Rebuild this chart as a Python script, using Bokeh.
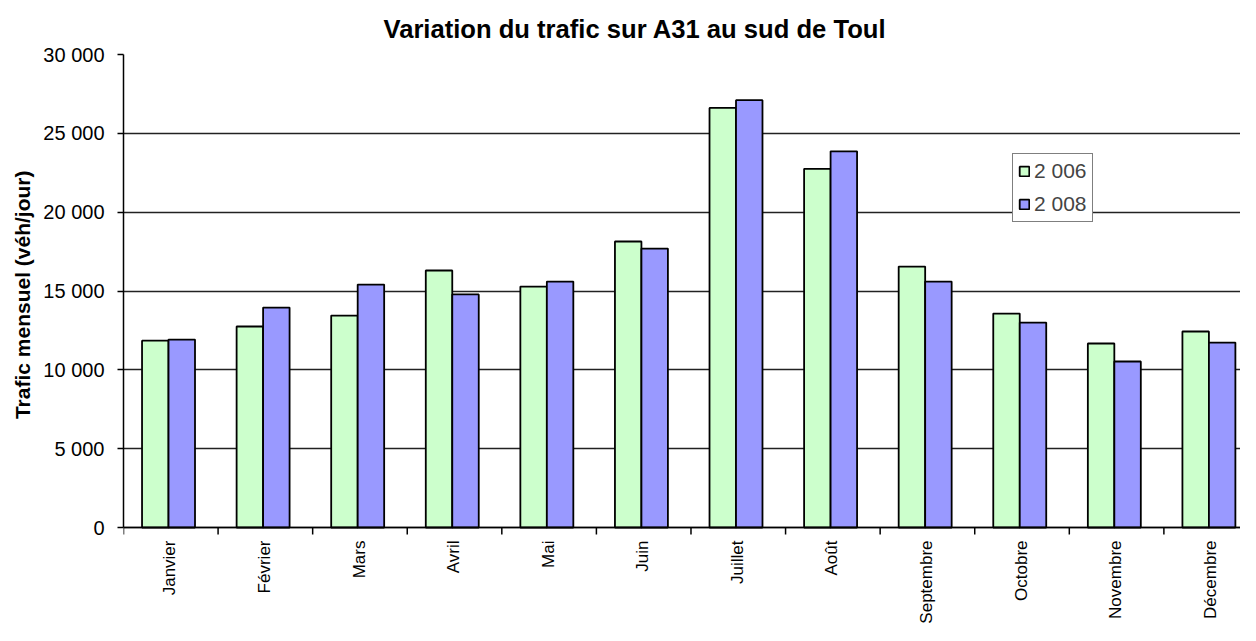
from bokeh.plotting import figure
from bokeh.models import FixedTicker, Legend, LegendItem, Title, ColumnDataSource, LabelSet, Span
from bokeh.core.properties import value
from bokeh.transform import dodge
from bokeh.embed import file_html
from bokeh.resources import INLINE
import math

months = ["Janvier", "Février", "Mars", "Avril", "Mai", "Juin", "Juillet",
          "Août", "Septembre", "Octobre", "Novembre", "Décembre"]
trafic_2006 = [11850, 12750, 13440, 16300, 15280, 18140, 26610, 22750, 16550, 13570, 11670, 12430]
trafic_2008 = [11920, 13950, 15410, 14780, 15600, 17690, 27100, 23860, 15600, 13000, 10530, 11730]
series_labels = ["2 006", "2 008"]
y_ticks = [0, 5000, 10000, 15000, 20000, 25000, 30000]
y_tick_labels = ["0", "5 000", "10 000", "15 000", "20 000", "25 000", "30 000"]

FONT = "Liberation Sans"
centers = [i + 0.5 for i in range(len(months))]
bounds = list(range(len(months) + 1))

# frame: top at 54px, zero line at 527px, frame bottom at 625px
PX_PER_UNIT = 473 / 30000
Y_LOW = -(625 - 527) / PX_PER_UNIT
TICK = 7 / PX_PER_UNIT

p = figure(width=1240, height=625, output_backend="svg", toolbar_location=None,
           x_range=(0, 11.81), y_range=(Y_LOW, 30000), x_axis_location=None,
           min_border_left=123, min_border_right=0, min_border_top=54, min_border_bottom=0)
p.title = None
p.add_layout(Title(text="Variation du trafic sur A31 au sud de Toul", align="left", offset=260,
                   text_font=FONT, text_font_size="25.6px", text_font_style="bold",
                   text_color="black", standoff=23), "above")

src = ColumnDataSource(dict(x=centers, a=trafic_2006, b=trafic_2008, m=months,
                            y0=[0] * len(months)))
r1 = p.vbar(x=dodge("x", -0.164), top="a", width=0.28, source=src, fill_color="#CCFFCC",
            line_color="black", line_width=1.8)
r2 = p.vbar(x=dodge("x", 0.116), top="b", width=0.28, source=src, fill_color="#9999FF",
            line_color="black", line_width=1.8)

p.outline_line_color = None
p.background_fill_color = "white"
p.xgrid.grid_line_color = None
p.ygrid.grid_line_color = "#222222"
p.ygrid.grid_line_width = 1.3
p.ygrid.ticker = FixedTicker(ticks=y_ticks)

p.yaxis.ticker = FixedTicker(ticks=y_ticks)
p.yaxis.bounds = (0, 30000)
p.yaxis.major_label_overrides = {t: l for t, l in zip(y_ticks, y_tick_labels)}
p.yaxis.major_label_text_font = FONT
p.yaxis.major_label_text_font_size = "20px"
p.yaxis.major_label_text_color = "black"
p.yaxis.major_tick_out = 6
p.yaxis.major_tick_in = 0
p.yaxis.major_tick_line_width = 1.5
p.yaxis.minor_tick_line_color = None
p.yaxis.axis_line_color = "black"
p.yaxis.axis_line_width = 1.5
p.yaxis.major_label_standoff = 13

# y axis title, placed along the 0..30000 part of the axis
p.add_layout(Title(text="Trafic mensuel (véh/jour)", align="right", offset=116,
                   text_font=FONT, text_font_size="21px", text_font_style="bold",
                   text_color="black", standoff=13), "left")

# category axis drawn at zero: baseline, boundary ticks, rotated month labels
p.add_layout(Span(location=0, dimension="width", line_color="black", line_width=1.5))
p.segment(x0=bounds, y0=[0] * len(bounds), x1=bounds, y1=[-TICK] * len(bounds),
          line_color="black", line_width=1.5)
labels = LabelSet(x=dodge("x", -0.01), y="y0", text="m", source=src, angle=math.pi / 2,
                  y_offset=-13, text_align="right", text_baseline="middle",
                  text_font=value(FONT), text_font_size=value("17px"), text_color="black")
p.add_layout(labels)

legend = Legend(items=[LegendItem(label=series_labels[0], renderers=[r1]),
                       LegendItem(label=series_labels[1], renderers=[r2])],
                location=(889, 403), border_line_color="black", border_line_width=1.5,
                label_text_font=FONT, label_text_font_size="21px",
                glyph_width=12, glyph_height=12, spacing=9, padding=5, margin=0,
                label_standoff=4, background_fill_alpha=1)
p.add_layout(legend, "center")

open("out.html", "w").write(file_html(p, INLINE))
